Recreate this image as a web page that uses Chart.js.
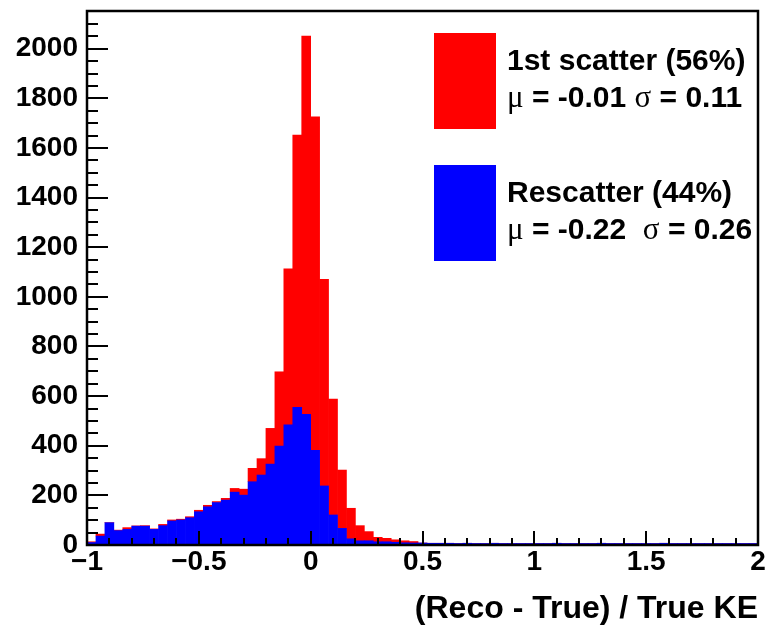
<!DOCTYPE html>
<html>
<head>
<meta charset="utf-8">
<script src="https://cdn.jsdelivr.net/npm/chart.js@4.4.1/dist/chart.umd.min.js"></script>
<style>
    html, body { margin: 0; padding: 0; background: #fff; }
</style>
</head>
<body>
<canvas id="canvas" width="768" height="625"></canvas>
<script>
'use strict';

// bin centres, (Reco - True) / True KE, bins of 0.04 from -1 to 2
var binCentres = [
    -0.98, -0.94, -0.90, -0.86, -0.82, -0.78, -0.74, -0.70, -0.66, -0.62,
    -0.58, -0.54, -0.50, -0.46, -0.42, -0.38, -0.34, -0.30, -0.26, -0.22,
    -0.18, -0.14, -0.10, -0.06, -0.02,  0.02,  0.06,  0.10,  0.14,  0.18,
     0.22,  0.26,  0.30,  0.34,  0.38,  0.42,  0.46,  0.50,  0.54,  0.58,
     0.62,  0.66,  0.70,  0.74,  0.78,  0.82,  0.86,  0.90,  0.94,  0.98,
     1.02,  1.06,  1.10,  1.14,  1.18,  1.22,  1.26,  1.30,  1.34,  1.38,
     1.42,  1.46,  1.50,  1.54,  1.58,  1.62,  1.66,  1.70,  1.74,  1.78,
     1.82,  1.86,  1.90,  1.94,  1.98
];

// stacked histogram: rescatter at the bottom (blue), 1st scatter on top (red)
var rescatter = [
    10, 36, 90, 58, 63, 76, 76, 63, 78, 97,
    101, 110, 134, 154, 171, 181, 213, 201, 255, 282,
    326, 399, 484, 555, 527, 382, 238, 121, 67, 25,
    17, 17, 13, 13, 11, 9, 8, 8, 7, 7,
    7, 6, 7, 6, 6, 7, 6, 6, 6, 6,
    6, 6, 7, 6, 6, 6, 6, 7, 6, 6,
    6, 6, 6, 6, 7, 6, 6, 6, 6, 6,
    6, 6, 6, 6, 6
];
var firstScatter = [
    3, 8, 0, 2, 7, 1, 2, 2, 5, 4,
    3, 4, 6, 6, 4, 7, 15, 24, 54, 66,
    144, 299, 629, 1097, 1524, 1344, 833, 467, 235, 123,
    61, 37, 18, 14, 10, 8, 6, 0, 0, 0,
    0, 0, 0, 0, 0, 0, 0, 0, 0, 0,
    0, 0, 0, 0, 0, 0, 0, 0, 0, 0,
    0, 0, 0, 0, 0, 0, 0, 0, 0, 0,
    0, 0, 0, 0, 0
];

var xTickValues = [-1, -0.5, 0, 0.5, 1, 1.5, 2];
var xTickLabels = ['\u22121', '\u22120.5', '0', '0.5', '1', '1.5', '2'];
var yTickValues = [0, 200, 400, 600, 800, 1000, 1200, 1400, 1600, 1800, 2000];

var legendTitles = ['1st scatter (56%)', 'Rescatter (44%)'];
var legendMeans  = ['-0.01', '-0.22'];
var legendSigmas = ['0.11', '0.26'];
var legendColors = ['#ff0000', '#0000ff'];

var sansBold = '"Liberation Sans", Arial, Helvetica, sans-serif';

function points(values) {
    return values.map(function (v, i) { return {x: binCentres[i], y: v}; });
}

// ROOT-like frame with inward ticks
var rootFrame = {
    id: 'rootFrame',
    afterDatasetsDraw: function (chart) {
        var ctx = chart.ctx, a = chart.chartArea,
            x = chart.scales.x, y = chart.scales.y, i, px, py, len;
        ctx.save();
        ctx.strokeStyle = '#000';
        ctx.lineWidth = 2;
        ctx.beginPath();
        for (i = 0; i <= 30; i++) {
            px = Math.round(x.getPixelForValue(-1 + i * 0.1));
            len = (i % 5 === 0) ? 14 : 7;
            ctx.moveTo(px, a.bottom);
            ctx.lineTo(px, a.bottom - len);
        }
        for (i = 0; i <= 43; i++) {
            py = Math.round(y.getPixelForValue(i * 50));
            len = (i % 4 === 0) ? 21 : 11;
            ctx.moveTo(a.left, py);
            ctx.lineTo(a.left + len, py);
        }
        ctx.stroke();
        ctx.lineWidth = 2.5;
        ctx.strokeRect(a.left, a.top, a.right - a.left, a.bottom - a.top);
        ctx.restore();
    }
};

var rootLegend = {
    id: 'rootLegend',
    afterDraw: function (chart) {
        var ctx = chart.ctx;
        ctx.save();
        ctx.textBaseline = 'alphabetic';
        ctx.textAlign = 'left';
        legendTitles.forEach(function (title, i) {
            var top = 33 + i * 132, tx = 507, cx;
            ctx.fillStyle = legendColors[i];
            ctx.fillRect(434, top, 62, 96);
            ctx.fillStyle = '#000';
            ctx.font = 'bold 30px ' + sansBold;
            ctx.fillText(title, tx, top + 37);
            var runs = [
                ['\u03bc', 'sym'],
                [' = ' + legendMeans[i] + (i === 1 ? '  ' : ' '), 'b'],
                ['\u03c3', 'sym'],
                [' = ' + legendSigmas[i], 'b']
            ];
            cx = tx;
            runs.forEach(function (r) {
                ctx.font = r[1] === 'sym' ? '31px "Liberation Serif", "DejaVu Serif", serif' : 'bold 30px ' + sansBold;
                ctx.fillText(r[0], cx, top + 74);
                cx += ctx.measureText(r[0]).width;
            });
        });
        ctx.restore();
    }
};

const chart = new Chart(document.getElementById('canvas').getContext('2d'), {
    type: 'bar',
    data: {
        datasets: [
            {
                label: 'Rescatter (44%)',
                data: points(rescatter),
                backgroundColor: '#0000ff',
                borderWidth: 0,
                barPercentage: 1,
                categoryPercentage: 1
            },
            {
                label: '1st scatter (56%)',
                data: points(firstScatter),
                backgroundColor: '#ff0000',
                borderWidth: 0,
                barPercentage: 1,
                categoryPercentage: 1
            }
        ]
    },
    options: {
        responsive: false,
        animation: false,
        layout: {padding: {left: 0, right: 10, top: 11, bottom: 0}},
        plugins: {
            legend: {display: false},
            tooltip: {enabled: false}
        },
        scales: {
            x: {
                type: 'linear',
                min: -1,
                max: 2,
                stacked: true,
                offset: false,
                grid: {display: false, drawTicks: false, tickLength: 0, offset: false},
                border: {display: false},
                afterBuildTicks: function (scale) {
                    scale.ticks = xTickValues.map(function (v) { return {value: v}; });
                },
                afterFit: function (scale) {
                    scale.height = 80;
                    scale.paddingLeft = 0;
                    scale.paddingRight = 0;
                },
                ticks: {
                    autoSkip: false,
                    maxRotation: 0,
                    minRotation: 0,
                    padding: 0,
                    color: '#000',
                    font: {family: sansBold, size: 28, weight: 'bold'},
                    callback: function (v, i) { return xTickLabels[i]; }
                },
                title: {
                    display: true,
                    text: '(Reco - True) / True KE',
                    align: 'end',
                    color: '#000',
                    font: {family: sansBold, size: 32, weight: 'bold', lineHeight: 1.0},
                    padding: {top: 0, bottom: 0}
                }
            },
            y: {
                min: 0,
                max: 2152,
                stacked: true,
                grid: {display: false, drawTicks: false, tickLength: 0},
                border: {display: false},
                afterBuildTicks: function (scale) {
                    scale.ticks = yTickValues.map(function (v) { return {value: v}; });
                },
                afterFit: function (scale) {
                    scale.width = 87;
                    scale.paddingTop = 0;
                    scale.paddingBottom = 0;
                },
                ticks: {
                    padding: 9,
                    color: '#000',
                    font: {family: sansBold, size: 28, weight: 'bold'},
                    callback: function (v) { return String(v); }
                }
            }
        }
    },
    plugins: [rootFrame, rootLegend]
});
</script>
</body>
</html>
